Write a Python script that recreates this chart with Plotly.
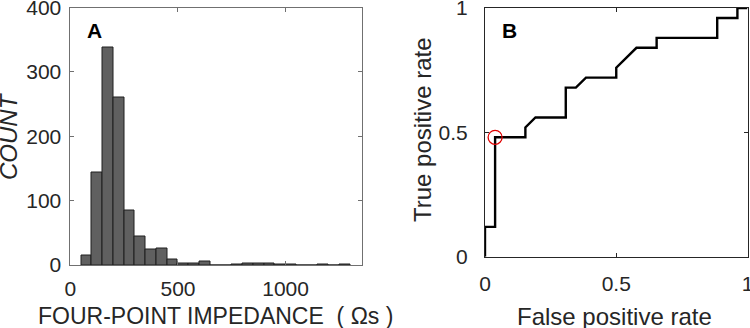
import plotly.graph_objects as go

# ---- Panel A: histogram of four-point impedance ----
bin_left_edges = [50, 100, 150, 200, 250, 300, 350, 400, 450, 500, 550, 600, 650, 700,
                  750, 800, 850, 900, 950, 1000, 1050, 1100, 1150, 1200, 1250]
bin_counts = [15, 143, 338, 260, 84, 44, 24, 25, 9, 3, 3, 5, 0, 0,
              1, 2, 2, 2, 1, 1, 0, 0, 1, 0, 1]
bin_width = 50
hist_yticks = [0, 100, 200, 300, 400]
hist_xticks = [0, 500, 1000]

# ---- Panel B: ROC curve ----
fpr = [0, 0, 1/26, 1/26, 4/26, 4/26, 5/26, 8/26, 8/26, 9/26, 10/26, 13/26, 13/26,
       15/26, 17/26, 17/26, 23/26, 23/26, 25/26, 25/26, 1]
tpr = [0, 0.12, 0.12, 0.48, 0.48, 0.52, 0.56, 0.56, 0.68, 0.68, 0.72, 0.72, 0.76,
       0.84, 0.84, 0.88, 0.88, 0.96, 0.96, 1.0, 1.0]
op_fpr = [1/26]
op_tpr = [0.48]
roc_ticks = [0, 0.5, 1]

W, H = 750, 328
FONT = "Liberation Sans, Arial, sans-serif"
TXT = "#262626"

fig = go.Figure()
centers = [e + bin_width / 2 for e in bin_left_edges]
fig.add_trace(go.Bar(x=centers, y=bin_counts, width=[bin_width] * len(centers),
                     marker=dict(color="#606060", line=dict(color="#1e1e1e", width=1)),
                     xaxis="x", yaxis="y", showlegend=False, hoverinfo="skip"))
fig.add_trace(go.Scatter(x=fpr, y=tpr, mode="lines", line=dict(color="black", width=2.4),
                         xaxis="x2", yaxis="y2", showlegend=False, hoverinfo="skip"))
fig.add_trace(go.Scatter(x=op_fpr, y=op_tpr, mode="markers",
                         marker=dict(symbol="circle-open", size=14, color="#e00000",
                                     line=dict(width=1.3, color="#e00000")),
                         xaxis="x2", yaxis="y2", showlegend=False, hoverinfo="skip"))

def px_dom_x(a, b):
    return [a / W, b / W]

def px_dom_y(top, bottom):
    return [1 - bottom / H, 1 - top / H]

axis_common = dict(showgrid=False, zeroline=False, ticks="inside", ticklen=4,
                   mirror="ticks", showline=True, ticklabeloverflow="allow",
                   automargin=False,
                   tickfont=dict(family=FONT, size=21, color=TXT))

fig.update_layout(
    width=W, height=H, margin=dict(l=0, r=0, t=0, b=0, autoexpand=False),
    plot_bgcolor="white", paper_bgcolor="white", bargap=0,
    xaxis=dict(domain=px_dom_x(69.5, 362), range=[-4, 1355], tickvals=hist_xticks,
               linecolor="#707070", tickcolor="#707070", linewidth=1, anchor="y",
               ticklabelstandoff=5, **axis_common),
    yaxis=dict(domain=px_dom_y(7.5, 265), range=[0, 400], tickvals=hist_yticks,
               linecolor="#707070", tickcolor="#707070", linewidth=1, anchor="x",
               ticklabelstandoff=3, **axis_common),
    xaxis2=dict(domain=px_dom_x(485, 747.5), range=[0, 1], tickvals=roc_ticks,
                ticktext=["0", "0.5", "1"], linecolor="#262626", tickcolor="#262626",
                linewidth=1, anchor="y2", ticklabelstandoff=8, **axis_common),
    yaxis2=dict(domain=px_dom_y(8, 256.7), range=[0, 1], tickvals=roc_ticks,
                ticktext=["0", "0.5", "1"], linecolor="#262626", tickcolor="#262626",
                linewidth=1, anchor="x2", ticklabelstandoff=12, **axis_common),
)

def ann(text, xpx, ypx, size, angle=0, bold=False, italic=False):
    t = text
    if bold:
        t = "<b>" + t + "</b>"
    if italic:
        t = "<i>" + t + "</i>"
    fig.add_annotation(text=t, xref="paper", yref="paper", x=xpx / W, y=1 - ypx / H,
                       xanchor="center", yanchor="middle", showarrow=False, textangle=angle,
                       font=dict(family=FONT, size=size, color=TXT if not bold else "black"))

ann("A", 94, 31, 21, bold=True)
ann("B", 509.5, 31, 21, bold=True)
ann("COUNT", 9, 136, 24, angle=-90, italic=True)
ann("True positive rate", 422, 130, 24, angle=-90)
ann("FOUR-POINT IMPEDANCE\u00a0\u00a0(\u00a0Ωs\u00a0)", 215, 316, 23)
ann("False positive rate", 614, 316, 24)

fig.write_html("out.html", config={"displayModeBar": False},
               post_script="document.body.style.margin='0';document.body.style.overflow='hidden';")
